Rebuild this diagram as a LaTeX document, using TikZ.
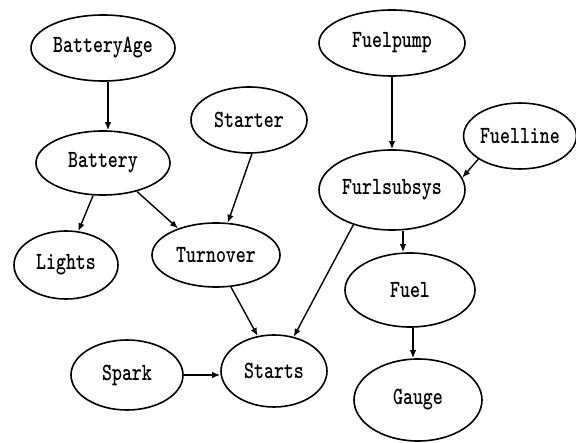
\documentclass[tikz,border=0pt]{standalone}
\usetikzlibrary{shapes.geometric,arrows.meta}
\tikzset{
  var/.style={draw, ellipse, line width=1.6pt, inner sep=0pt,
    font=\fontsize{19}{19}\selectfont\ttfamily\bfseries},
  arr/.style={line width=1.4pt, -{Latex[length=8pt,width=6.5pt]}}
}
\newcommand{\lbl}[1]{\scalebox{1}[1.3]{#1}}
\begin{document}
\begin{tikzpicture}[x=1pt,y=-1pt]
\useasboundingbox (0,0) rectangle (576,443);
% battery side
\node[var, minimum width=144, minimum height=66] (bage) at (103,48) {\lbl{BatteryAge}};
\node[var, minimum width=134, minimum height=64] (battery) at (103,163) {\lbl{Battery}};
\node[var, minimum width=116, minimum height=66] (starter) at (249,120) {\lbl{Starter}};
\node[var, minimum width=104, minimum height=68] (lights) at (66,265) {\lbl{Lights}};
\node[var, minimum width=128, minimum height=64] (turnover) at (216,255) {\lbl{Turnover}};
\node[var, minimum width=112, minimum height=70] (spark) at (127,375) {\lbl{Spark}};
\node[var, minimum width=106, minimum height=72] (starts) at (274,371) {\lbl{Starts}};
% fuel side
\node[var, minimum width=146, minimum height=66] (fuelpump) at (392,43) {\lbl{Fuelpump}};
\node[var, minimum width=106, minimum height=66] (fuelline) at (520,136) {\lbl{Fuelline}};
\node[var, minimum width=146, minimum height=80] (furl) at (392,190) {\lbl{Furlsubsys}};
\node[var, minimum width=130, minimum height=74] (fuel) at (410,290) {\lbl{Fuel}};
\node[var, minimum width=128, minimum height=82] (gauge) at (418,400) {\lbl{Gauge}};
% dependencies
\draw[arr] ([xshift=5pt]bage.south) -- ([xshift=5pt]battery.north);
\draw[arr] (battery.-107) -- (lights.70);
\draw[arr] (battery.-40) -- (turnover.145);
\draw[arr] (starter.-85) -- (turnover.70);
\draw[arr] (turnover.-65) -- (starts.115);
\draw[arr] (spark.east) -- (spark.east -| starts.west);
\draw[arr] (furl.-138) -- (starts.60);
\draw[arr] (fuelpump.south) -- (furl.north);
\draw[arr] (fuelline.-151) -- (furl.10);
\draw[arr] ([xshift=11pt]furl.south) -- ([xshift=-7pt]fuel.north);
\draw[arr] ([xshift=3pt]fuel.south) -- ([xshift=-5pt]gauge.north);
\end{tikzpicture}
\end{document}
